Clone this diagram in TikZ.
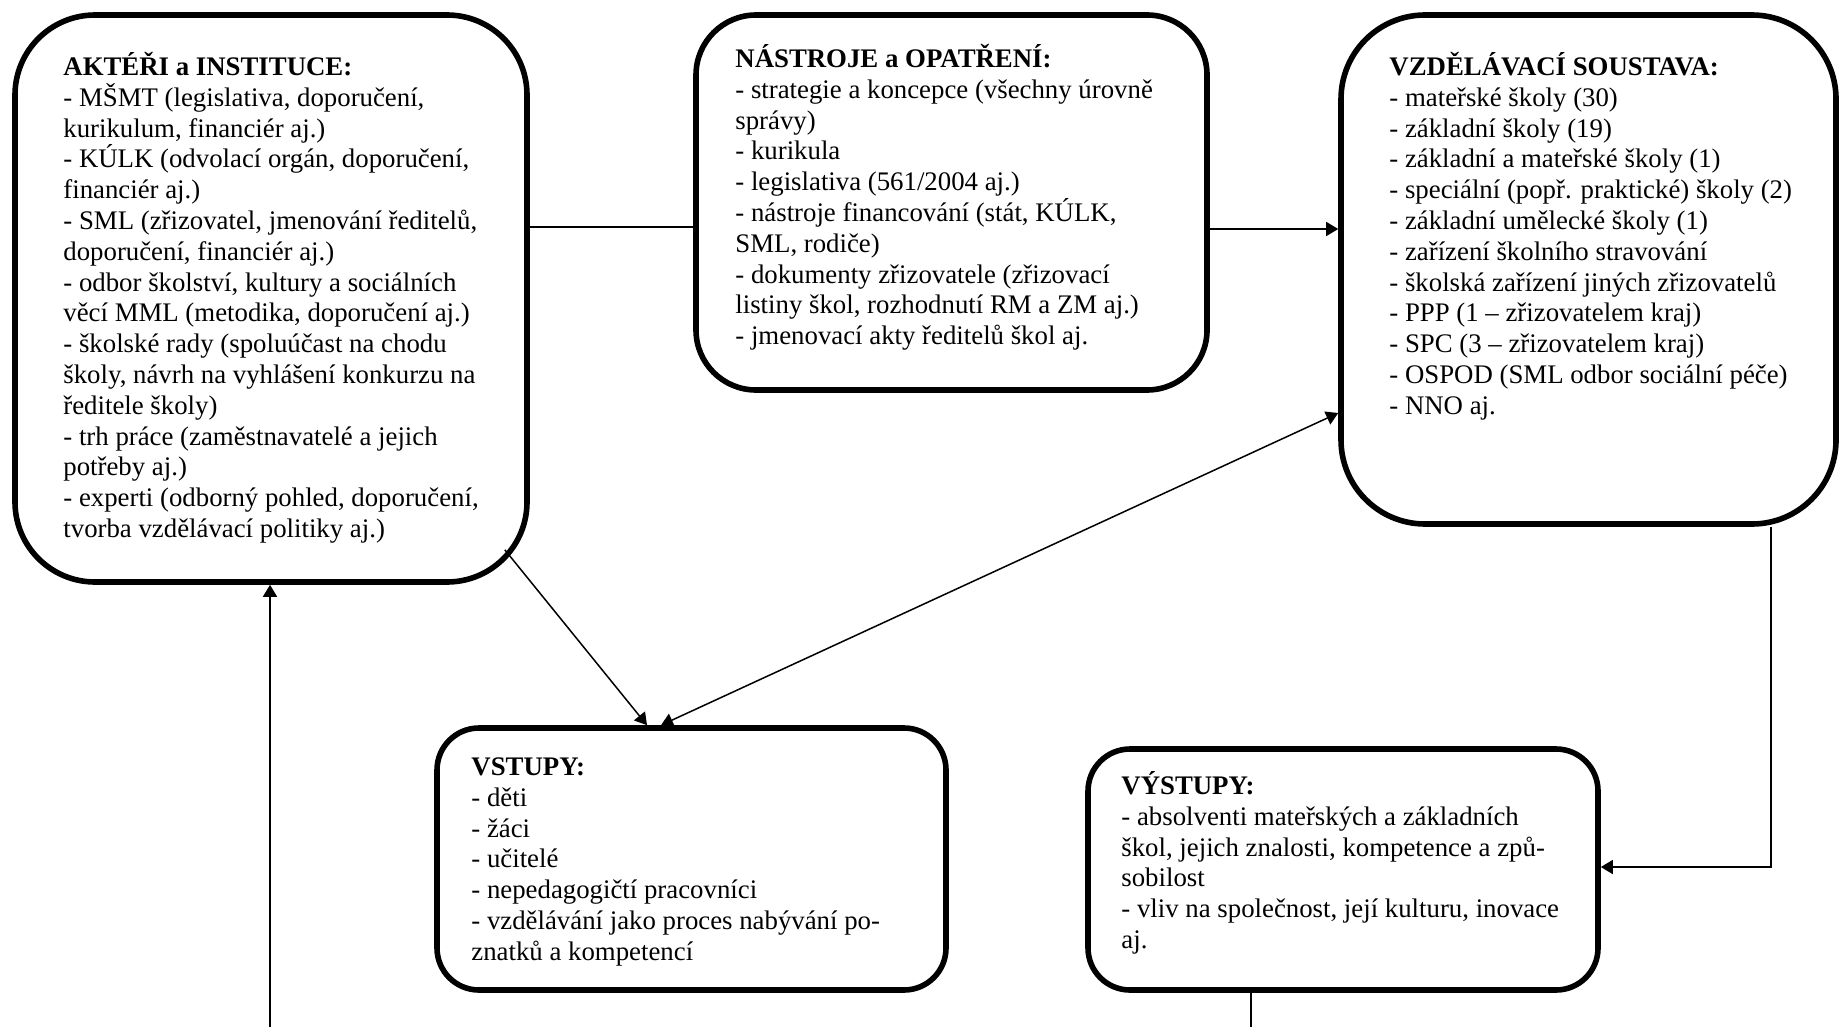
\documentclass[tikz,border=0pt]{standalone}
\usepackage{fontspec}
\setmainfont{Liberation Serif}
\usetikzlibrary{arrows.meta,calc}
\newcommand{\firstln}{\rule{0pt}{14pt}}
\begin{document}
\begin{tikzpicture}[x=0.5pt,y=-0.5pt,
  box/.style={draw, line width=2.8pt, rectangle, inner sep=0pt, fill=white},
  txt/.style={anchor=north west, align=left, inner sep=0pt, font=\fontsize{13.4pt}{15.4pt}\selectfont},
  conn/.style={line width=0.75pt},
  arr/.style={conn, -{Triangle[length=6pt,width=7pt]}},
  darr/.style={conn, {Triangle[length=6pt,width=7pt]}-{Triangle[length=6pt,width=7pt]}}]
\useasboundingbox (0,0) rectangle (1839,1027);
\fill[white] (0,0) rectangle (1839,1027);

% boxes
\node[box, rounded corners=40pt, minimum width=256pt, minimum height=283.5pt] (act) at (271,298.5) {};
\node[box, rounded corners=30pt, minimum width=255.5pt, minimum height=187.5pt] (nas) at (951.5,202.5) {};
\node[box, rounded corners=42pt, minimum width=247.5pt, minimum height=254.5pt] (vzd) at (1588.5,269.5) {};
\node[box, rounded corners=21pt, minimum width=254.5pt, minimum height=131pt] (vst) at (691.5,859) {};
\node[box, rounded corners=21pt, minimum width=255pt, minimum height=120.5pt] (vys) at (1343,869.5) {};

% texts (first baseline = node top + 28)
\node[txt] (actT) at (63,47) {\firstln\textbf{AKTÉŘI a INSTITUCE:}\\
- MŠMT (legislativa, doporučení,\\
kurikulum, financiér aj.)\\
- KÚLK (odvolací orgán, doporučení,\\
financiér aj.)\\
- SML (zřizovatel, jmenování ředitelů,\\
doporučení, financiér aj.)\\
- odbor školství, kultury a sociálních\\
věcí MML (metodika, doporučení aj.)\\
- školské rady (spoluúčast na chodu\\
školy, návrh na vyhlášení konkurzu na\\
ředitele školy)\\
- trh práce (zaměstnavatelé a jejich\\
potřeby aj.)\\
- experti (odborný pohled, doporučení,\\
tvorba vzdělávací politiky aj.)};

\node[txt] (nasT) at (735,39) {\firstln\textbf{NÁSTROJE a OPATŘENÍ:}\\
- strategie a koncepce (všechny úrovně\\
správy)\\
- kurikula\\
- legislativa (561/2004 aj.)\\
- nástroje financování (stát, KÚLK,\\
SML, rodiče)\\
- dokumenty zřizovatele (zřizovací\\
listiny škol, rozhodnutí RM a ZM aj.)\\
- jmenovací akty ředitelů škol aj.};

\node[txt] (vzdT) at (1389,47) {\firstln\textbf{VZDĚLÁVACÍ SOUSTAVA:}\\
- mateřské školy (30)\\
- základní školy (19)\\
- základní a mateřské školy (1)\\
- speciální (popř. praktické) školy (2)\\
- základní umělecké školy (1)\\
- zařízení školního stravování\\
- školská zařízení jiných zřizovatelů\\
- PPP (1 – zřizovatelem kraj)\\
- SPC (3 – zřizovatelem kraj)\\
- OSPOD (SML odbor sociální péče)\\
- NNO aj.};

\node[txt] (vstT) at (471,747) {\firstln\textbf{VSTUPY:}\\
- děti\\
- žáci\\
- učitelé\\
- nepedagogičtí pracovníci\\
- vzdělávání jako proces nabývání po-\\
znatků a kompetencí};

\node[txt] (vysT) at (1121,766) {\firstln\textbf{VÝSTUPY:}\\
- absolventi mateřských a základních\\
škol, jejich znalosti, kompetence a způ-\\
sobilost\\
- vliv na společnost, její kulturu, inovace\\
aj.};

% free ends at the picture edge
\coordinate (b1) at (270,1027);
\coordinate (b2) at (1251,1027);

% connectors
\draw[conn] (act.east |- 0,227) -- (nas.west |- 0,227);
\draw[arr] (nas.east |- 0,229) -- (vzd.west |- 0,229);
\draw[arr] ($(act.south east)+(-25,-35)$) -- (vst.north -| 647,0);
\draw[darr] (vst.north -| 661,0) -- (vzd.west |- 0,413);
\draw[arr] (vzd.south -| 1771,0) |- (vys.east |- 0,867);
\draw[conn] (vys.south -| b2) -- (b2);
\draw[arr] (b1) -- (act.south -| b1);
\end{tikzpicture}
\end{document}
